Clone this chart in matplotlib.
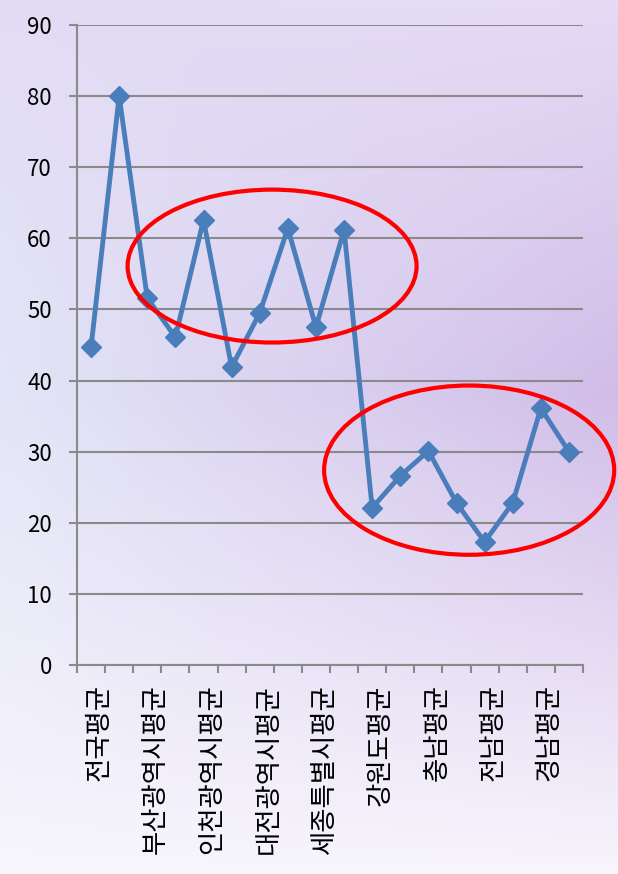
import numpy as np
import matplotlib.pyplot as plt
from matplotlib.patches import Ellipse

plt.rcParams['font.family'] = ['Noto Sans CJK KR', 'DejaVu Sans']

# 지역별 평균 (18개 지역, 라벨은 하나 걸러 표시)
regions = ['전국평균', '서울특별시평균', '부산광역시평균', '대구광역시평균',
           '인천광역시평균', '광주광역시평균', '대전광역시평균', '울산광역시평균',
           '세종특별시평균', '경기도평균', '강원도평균', '충북평균',
           '충남평균', '전북평균', '전남평균', '경북평균', '경남평균', '제주평균']
values = [44.7, 80.0, 51.6, 46.1, 62.6, 41.9, 49.5, 61.4, 47.5,
          61.2, 22.1, 26.6, 30.1, 22.8, 17.3, 22.8, 36.1, 30.0]
yticks = [0, 10, 20, 30, 40, 50, 60, 70, 80, 90]

fig = plt.figure(figsize=(6.18, 8.74), dpi=100)

# 배경 그라데이션
bg = fig.add_axes([0, 0, 1, 1])
h, w = 200, 140
yy, xx = np.mgrid[0:1:h * 1j, 0:1:w * 1j]
tl = np.array([0.89, 0.86, 0.96])
tr = np.array([0.90, 0.86, 0.96])
ml = np.array([0.89, 0.90, 0.97])
mr = np.array([0.82, 0.74, 0.91])
bot = np.array([0.97, 0.96, 0.99])
img = np.zeros((h, w, 3))
for c in range(3):
    top = tl[c] * (1 - xx) + tr[c] * xx
    mid = ml[c] * (1 - xx) + mr[c] * xx
    upper = top * (1 - yy / 0.45) + mid * (yy / 0.45)
    lower = mid * (1 - (yy - 0.45) / 0.55) + bot[c] * ((yy - 0.45) / 0.55)
    img[..., c] = np.where(yy < 0.45, upper, lower)
bg.imshow(np.clip(img, 0, 1), aspect='auto', extent=[0, 1, 0, 1], origin='upper')
bg.axis('off')

ax = fig.add_axes([77 / 618, 1 - 665 / 874, (583 - 77) / 618, (665 - 25) / 874])
ax.patch.set_alpha(0)

x = np.arange(len(regions))
ax.plot(x, values, color='#4A7EBB', lw=3.5, marker='D', ms=10,
        mfc='#4A7EBB', mec='#4A7EBB', zorder=3)

ax.set_xlim(-0.5, len(regions) - 0.5)
ax.set_ylim(0, 90)
ax.set_yticks(yticks)
ax.set_yticklabels([str(v) for v in yticks], fontsize=16)
ax.yaxis.grid(True, color='#8A8A8A', lw=1.5)
ax.set_axisbelow(True)

# 카테고리 경계 눈금, 라벨은 하나 걸러 (약간 오른쪽으로 치우침)
ax.set_xticks(np.arange(-0.5, len(regions)))
ax.set_xticklabels([])
ax.set_xticks(x[::2] + 0.3, minor=True)
ax.set_xticklabels(regions[::2], minor=True, rotation=90, fontsize=19,
                   va='top', ha='center')
ax.tick_params(axis='x', which='major', length=6, color='#8A8A8A', width=1.5)
ax.tick_params(axis='x', which='minor', length=0, pad=14)
ax.tick_params(axis='y', length=6, color='#8A8A8A', width=1.5, pad=12)

for s in ['top', 'right']:
    ax.spines[s].set_visible(False)
for s in ['left', 'bottom']:
    ax.spines[s].set_color('#8A8A8A')
    ax.spines[s].set_linewidth(1.5)

# 강조 타원
ax.add_patch(Ellipse((6.44, 56.1), 10.28, 21.5, fill=False, ec='#FF0000',
                     lw=3, clip_on=False, zorder=4))
ax.add_patch(Ellipse((13.45, 27.4), 10.32, 23.8, fill=False, ec='#FF0000',
                     lw=3, clip_on=False, zorder=4))

fig.savefig('out.png', dpi=100)
